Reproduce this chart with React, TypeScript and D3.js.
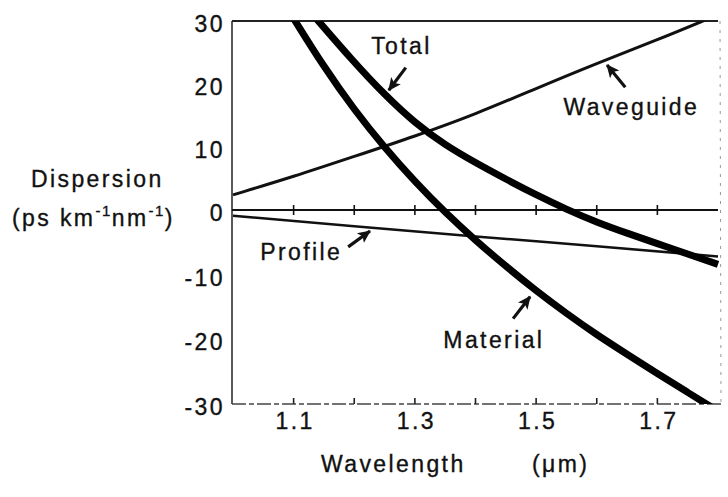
import React from "react";
import * as d3 from "d3";

const W = 728;
const H = 497;

// ---- data ----
const materialX = [1.1, 1.15, 1.2, 1.25, 1.3, 1.35, 1.4, 1.45, 1.5, 1.55, 1.6, 1.65, 1.7, 1.75, 1.8];
const materialY = [30.4, 22.7, 15.9, 9.9, 4.5, -0.4, -4.7, -8.7, -12.5, -16.0, -19.3, -22.3, -25.3, -28.2, -31.1];

const totalX = [1.13, 1.2, 1.25, 1.3, 1.35, 1.4, 1.45, 1.5, 1.55, 1.6, 1.65, 1.7, 1.75, 1.8];
const totalY = [31.2, 23.4, 18.3, 13.8, 10.3, 7.5, 4.9, 2.4, 0.1, -1.9, -3.6, -5.2, -6.8, -8.4];

const waveguideX = [1.0, 1.1, 1.2, 1.3, 1.4, 1.5, 1.6, 1.7, 1.78, 1.8];
const waveguideY = [2.4, 5.3, 8.5, 11.7, 15.2, 19.3, 23.3, 27.0, 30.2, 31.0];

const profileX = [1.0, 1.2, 1.4, 1.6, 1.8];
const profileY = [-0.9, -2.5, -4.1, -5.6, -7.2];

const xTickValues = [1.1, 1.2, 1.3, 1.4, 1.5, 1.6, 1.7];
const xTickLabels = [1.1, 1.3, 1.5, 1.7];
const yTickValues = [30, 20, 10, 0, -10, -20, -30];

// annotations: label position and arrow (tail -> head), data units
const annLabels = ["Total", "Waveguide", "Profile", "Material"];
const annLabelX = [1.228, 1.545, 1.045, 1.347];
const annLabelY = [24.8, 15.1, -7.7, -21.3];
const annTailX = [1.285, 1.647, 1.19, 1.462];
const annTailY = [22.6, 19.5, -5.7, -16.8];
const annHeadX = [1.257, 1.617, 1.226, 1.49];
const annHeadY = [19.0, 23.0, -3.25, -13.4];

const FONT = "'Liberation Sans', Arial, Helvetica, sans-serif";

export default function App() {
  const x = d3.scaleLinear().domain([1.0, 1.8]).range([233, 718]);
  const y = d3.scaleLinear().domain([-30, 0, 30]).range([404, 210, 21]);

  const zip = (xs: number[], ys: number[]) => xs.map((v, i) => [v, ys[i]] as [number, number]);
  const line = d3
    .line<[number, number]>()
    .x((d) => x(d[0]))
    .y((d) => y(d[1]))
    .curve(d3.curveBasis);

  const [x0, x1] = x.range();
  const yTop = y(30);
  const yBot = y(-30);
  const y0 = y(0);

  const textStyle: React.CSSProperties = {
    fontFamily: FONT,
    fontSize: 23,
    letterSpacing: 2.4,
    fill: "#111",
    stroke: "#111",
    strokeWidth: 0.35,
  };
  const supStyle: React.CSSProperties = { fontSize: 15, letterSpacing: 1.5 };

  return (
    <svg width={W} height={H} style={{ position: "absolute", left: 0, top: 0, background: "#fff" }}>
      <defs>
        <clipPath id="plot">
          <rect x={x0 - 1} y={yTop} width={x1 - x0 + 2} height={yBot - yTop} />
        </clipPath>
        <marker id="ah" markerUnits="userSpaceOnUse" markerWidth={14} markerHeight={14} viewBox="0 0 14 14" refX={12} refY={7} orient="auto">
          <path d="M0,1 L13,7 L0,13 L3,7 Z" fill="#111" />
        </marker>
      </defs>

      {/* frame */}
      <line x1={x0 - 1} x2={x1} y1={yTop} y2={yTop} stroke="#222" strokeWidth={1.8} />
      <line x1={x0 - 1} x2={x0 - 1} y1={yTop} y2={yBot} stroke="#222" strokeWidth={1.5} />
      <line x1={x0 - 1} x2={x1 + 3} y1={yBot} y2={yBot} stroke="#444" strokeWidth={1.3} strokeDasharray="14 3 5 3" />
      <line x1={x1 + 2} x2={x1 + 3} y1={yTop} y2={yBot} stroke="#999" strokeWidth={1} strokeDasharray="3 6" />

      {/* zero line with cross ticks */}
      <line x1={x0 - 1} x2={x1} y1={y0} y2={y0} stroke="#111" strokeWidth={2} />
      {xTickValues.map((v) => (
        <line key={"z" + v} x1={x(v)} x2={x(v)} y1={y0 - 5} y2={y0 + 5} stroke="#111" strokeWidth={1.6} />
      ))}
      {/* bottom ticks */}
      {xTickValues.map((v) => (
        <line key={"b" + v} x1={x(v)} x2={x(v)} y1={yBot - 6} y2={yBot} stroke="#222" strokeWidth={1.6} />
      ))}

      {/* curves */}
      <g clipPath="url(#plot)" fill="none" strokeLinecap="butt" strokeLinejoin="round">
        <path d={line(zip(waveguideX, waveguideY)) || ""} stroke="#111" strokeWidth={3} />
        <path d={line(zip(profileX, profileY)) || ""} stroke="#111" strokeWidth={2.5} />
        <path d={line(zip(materialX, materialY)) || ""} stroke="#000" strokeWidth={7} />
        <path d={line(zip(totalX, totalY)) || ""} stroke="#000" strokeWidth={7} />
      </g>

      {/* y tick labels */}
      {yTickValues.map((v) => (
        <text key={"yl" + v} x={225} y={y(v) + 3} dy="0.35em" textAnchor="end" style={textStyle}>
          {v < 0 ? "-" + Math.abs(v) : String(v)}
        </text>
      ))}
      {/* x tick labels */}
      {xTickLabels.map((v) => (
        <text key={"xl" + v} x={x(v) + 1.5} y={429} textAnchor="middle" style={textStyle}>
          {v.toFixed(1)}
        </text>
      ))}

      {/* axis titles */}
      <text x={31} y={187} style={textStyle}>Dispersion</text>
      <text x={12} y={226} style={textStyle}>
        (ps km
        <tspan dy={-10} style={supStyle}>-1</tspan>
        <tspan dy={10}>nm</tspan>
        <tspan dy={-10} style={supStyle}>-1</tspan>
        <tspan dy={10}>)</tspan>
      </text>
      <text x={321} y={472} style={textStyle}>Wavelength</text>
      <text x={532} y={472} style={textStyle}>(μm)</text>

      {/* annotations */}
      {annLabels.map((t, i) => (
        <g key={t}>
          <text x={x(annLabelX[i])} y={y(annLabelY[i])} style={textStyle}>{t}</text>
          <line
            x1={x(annTailX[i])}
            y1={y(annTailY[i])}
            x2={x(annHeadX[i])}
            y2={y(annHeadY[i])}
            stroke="#111"
            strokeWidth={3.2}
            markerEnd="url(#ah)"
          />
        </g>
      ))}
    </svg>
  );
}
